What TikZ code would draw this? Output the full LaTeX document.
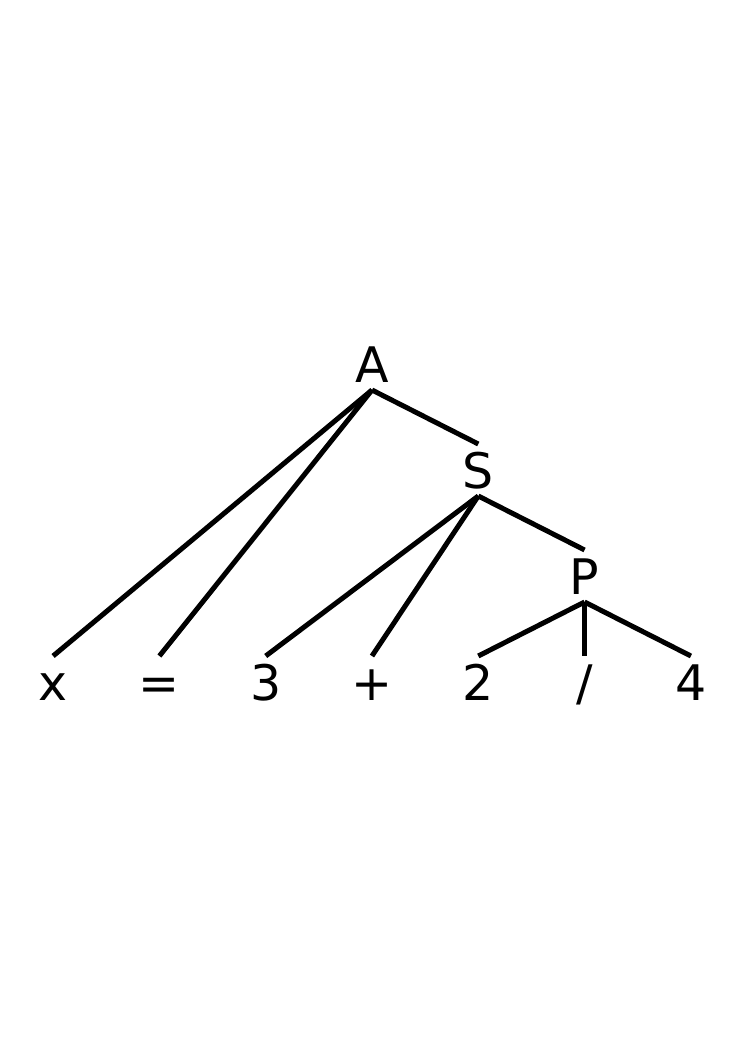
\documentclass[tikz,border=0pt]{standalone}
\usepackage{fontspec}
\setmainfont{DejaVu Sans}
\usetikzlibrary{positioning}

\begin{document}
\begin{tikzpicture}[on grid,node distance=106pt and 106.3pt,
                    every node/.style={font=\fontsize{49}{58}\selectfont,
                      inner sep=0pt,outer sep=8pt,text height=36pt,text depth=0pt},
                    branch/.style={line width=5pt}]

  \useasboundingbox (-372pt,364pt) rectangle (372pt,-689pt);

  \node (A)                        {A};
  \node (S)     [below right=of A] {S};
  \node (P)     [below right=of S] {P};
  \node (slash) [below=of P]       {/};
  \node (two)   [left=of slash]    {2};
  \node (four)  [right=of slash]   {4};
  \node (plus)  [left=of two]      {+};
  \node (three) [left=of plus]     {3};
  \node (eq)    [left=of three]    {=};
  \node (x)     [left=of eq]       {x};

  \path[branch] (A.south) edge (x.north)
                          edge (eq.north)
                          edge (S.north)
                (S.south) edge (three.north)
                          edge (plus.north)
                          edge (P.north)
                (P.south) edge (two.north)
                          edge (slash.north)
                          edge (four.north);
\end{tikzpicture}
\end{document}
